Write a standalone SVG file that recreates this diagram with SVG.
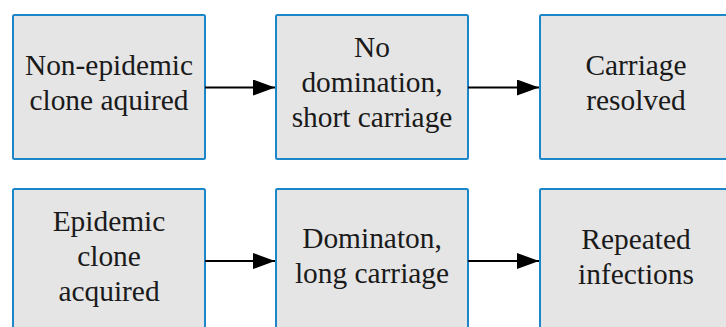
<svg xmlns="http://www.w3.org/2000/svg" width="726" height="327" viewBox="0 0 726 327">
  <defs>
    <style>
      .box { fill: #e5e5e5; stroke: #1b86c8; stroke-width: 2; }
      .lbl { font-family: "Liberation Serif", "Times New Roman", serif; font-size: 29.4px; fill: #1a1a1a; text-anchor: middle; }
      .edge { stroke: #000; stroke-width: 2; fill: none; marker-end: url(#head); }
    </style>
    <marker id="head" viewBox="0 0 22 16" refX="22" refY="8" markerWidth="22" markerHeight="16" markerUnits="userSpaceOnUse" orient="auto">
      <path d="M0,0 L22,8 L0,16 Z" fill="#000"/>
    </marker>
  </defs>

  <rect width="726" height="327" fill="#fff"/>

  <!-- top row -->
  <g id="non-epidemic">
    <rect class="box" x="13" y="15" width="192" height="144" rx="1.5"/>
    <text class="lbl" x="109" y="75">Non-epidemic</text>
    <text class="lbl" x="109" y="110">clone aquired</text>
  </g>
  <g id="no-domination">
    <rect class="box" x="276" y="15" width="192" height="144" rx="1.5"/>
    <text class="lbl" x="372" y="57">No</text>
    <text class="lbl" x="372" y="92">domination,</text>
    <text class="lbl" x="372" y="127">short carriage</text>
  </g>
  <g id="carriage-resolved">
    <rect class="box" x="540" y="15" width="192" height="144" rx="1.5"/>
    <text class="lbl" x="636" y="75">Carriage</text>
    <text class="lbl" x="636" y="110">resolved</text>
  </g>

  <!-- bottom row -->
  <g id="epidemic">
    <rect class="box" x="13" y="189" width="192" height="144" rx="1.5"/>
    <text class="lbl" x="109" y="231">Epidemic</text>
    <text class="lbl" x="109" y="266">clone</text>
    <text class="lbl" x="109" y="301">acquired</text>
  </g>
  <g id="domination">
    <rect class="box" x="276" y="189" width="192" height="144" rx="1.5"/>
    <text class="lbl" x="372" y="248">Dominaton,</text>
    <text class="lbl" x="372" y="283">long carriage</text>
  </g>
  <g id="repeated-infections">
    <rect class="box" x="540" y="189" width="192" height="144" rx="1.5"/>
    <text class="lbl" x="636" y="249">Repeated</text>
    <text class="lbl" x="636" y="284">infections</text>
  </g>

  <!-- connectors -->
  <g id="connectors">
    <line class="edge" x1="205" y1="87.5" x2="275" y2="87.5"/>
    <line class="edge" x1="468" y1="87.5" x2="539" y2="87.5"/>
    <line class="edge" x1="205" y1="261" x2="275" y2="261"/>
    <line class="edge" x1="468" y1="261" x2="539" y2="261"/>
  </g>
</svg>
